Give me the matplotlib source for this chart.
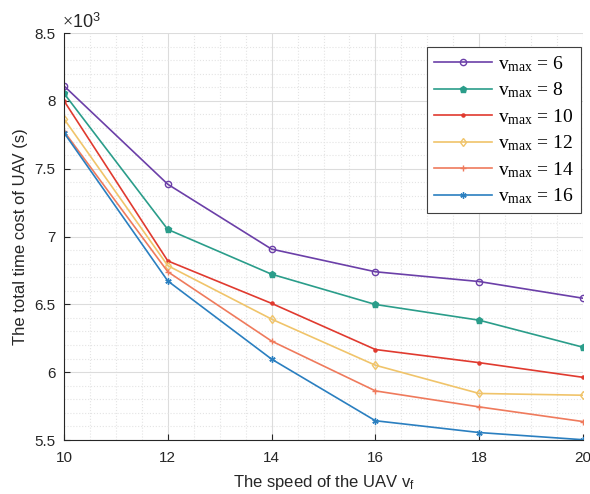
import numpy as np
import matplotlib
matplotlib.use('Agg')
import matplotlib.pyplot as plt
from matplotlib.ticker import MultipleLocator

plt.rcParams['font.family'] = ['Liberation Sans', 'DejaVu Sans']
plt.rcParams['mathtext.fontset'] = 'custom'
plt.rcParams['mathtext.rm'] = 'Liberation Serif'
plt.rcParams['mathtext.it'] = 'Liberation Serif:italic'
plt.rcParams['mathtext.sf'] = 'Liberation Sans'

# speed of the UAV
speed = [10, 12, 14, 16, 18, 20]
vmax_values = [6, 8, 10, 12, 14, 16]

# total time cost (x10^3 s)
cost_v6 = [8.11, 7.385, 6.907, 6.740, 6.668, 6.545]
cost_v8 = [8.055, 7.052, 6.722, 6.499, 6.383, 6.184]
cost_v10 = [8.00, 6.820, 6.507, 6.167, 6.070, 5.962]
cost_v12 = [7.867, 6.785, 6.391, 6.051, 5.843, 5.830]
cost_v14 = [7.775, 6.740, 6.229, 5.862, 5.744, 5.636]
cost_v16 = [7.765, 6.672, 6.096, 5.642, 5.555, 5.502]

series = [cost_v6, cost_v8, cost_v10, cost_v12, cost_v14, cost_v16]
colors = ['#6b3fa8', '#2a9d8a', '#e03a2f', '#f0c46a', '#ef7a5c', '#2a7fc0']
markers = ['o', 'p', '.', 'd', '+', (6, 2, 0)]
mfc = ['none', None, None, 'none', None, None]

fig = plt.figure(figsize=(5.9, 4.94), dpi=100)
ax = fig.add_axes([64 / 590, 1 - 440 / 494, (583 - 64) / 590, (440 - 33) / 494])

for vals, c, m, fc, v in zip(series, colors, markers, mfc, vmax_values):
    kw = dict(color=c, marker=m, linewidth=1.2, markersize=4.5,
              label=r'v$_{\mathrm{max}}$ = %d' % v)
    if fc is not None:
        kw['markerfacecolor'] = fc
    ax.plot(speed, vals, **kw)

ax.set_xlim(10, 20)
ax.set_ylim(5.5, 8.5)
ax.xaxis.set_major_locator(MultipleLocator(2))
ax.yaxis.set_major_locator(MultipleLocator(0.5))
ax.xaxis.set_minor_locator(MultipleLocator(0.5))
ax.yaxis.set_minor_locator(MultipleLocator(0.1))
ax.grid(which='major', color='#dcdcdc', linewidth=0.8)
ax.grid(which='minor', color='#e4e4e4', linestyle=':', linewidth=0.8)
ax.set_axisbelow(True)
ax.tick_params(which='both', direction='in', labelsize=11, colors='#262626')
ax.tick_params(which='minor', length=0)
ax.tick_params(which='major', length=4)
ax.tick_params(axis='x', pad=8)
ax.tick_params(axis='y', pad=6)
ax.set_yticks([5.5, 6, 6.5, 7, 7.5, 8, 8.5])
ax.set_yticklabels(['5.5', '6', '6.5', '7', '7.5', '8', '8.5'])
for s in ['top', 'right']:
    ax.spines[s].set_visible(False)
for s in ['left', 'bottom']:
    ax.spines[s].set_color('#262626')
    ax.spines[s].set_linewidth(0.8)

ax.set_xlabel(r'The speed of the UAV $\mathsf{v}_{\mathsf{f}}$', fontsize=12,
              color='#262626', labelpad=6)
ax.set_ylabel('The total time cost of UAV (s)', fontsize=12, color='#262626',
              labelpad=5)
ax.text(-0.004, 1.003, r'$\times\mathsf{10}^{\mathsf{3}}$', transform=ax.transAxes,
        fontsize=13, ha='left', va='bottom', color='#262626')

leg = ax.legend(loc='upper right', bbox_to_anchor=(1.003, 0.975),
                prop={'family': 'Liberation Serif', 'size': 14},
                fancybox=False, edgecolor='#404040', framealpha=1,
                handlelength=3.0, handletextpad=0.3, labelspacing=0.35,
                borderpad=0.35, borderaxespad=0.2)
leg.get_frame().set_linewidth(0.8)

fig.savefig('out.png', dpi=100)
